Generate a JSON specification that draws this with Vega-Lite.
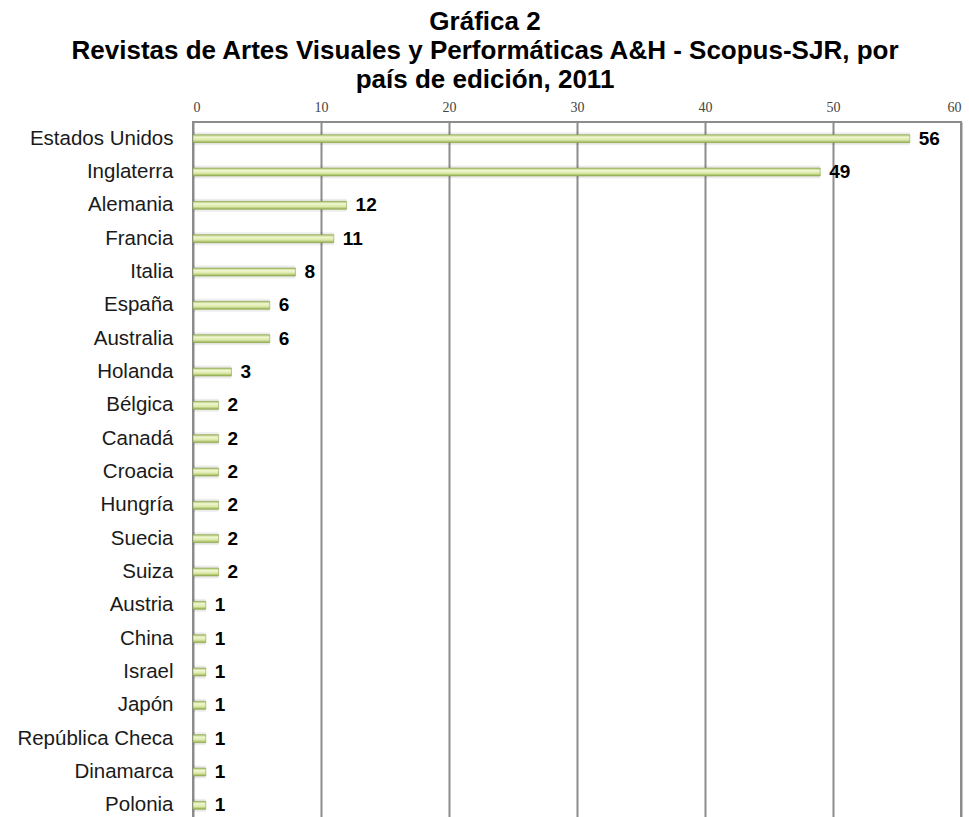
{
  "$schema": "https://vega.github.io/schema/vega-lite/v6.json",
  "autosize": {"type": "none"},
  "padding": {"left": 193, "top": 122, "right": 8, "bottom": 0},
  "width": 768,
  "height": 700,
  "title": {
    "text": ["Gráfica 2", "Revistas de Artes Visuales y Performáticas A&H - Scopus-SJR, por", "país de edición, 2011"],
    "font": "Liberation Sans",
    "fontSize": 26,
    "fontWeight": "bold",
    "color": "#000000",
    "lineHeight": 29,
    "anchor": "middle",
    "dx": -92,
    "offset": 7
  },
  "data": {
    "values": [
      {"pais": "Estados Unidos", "revistas": 56},
      {"pais": "Inglaterra ", "revistas": 49},
      {"pais": "Alemania", "revistas": 12},
      {"pais": "Francia", "revistas": 11},
      {"pais": "Italia", "revistas": 8},
      {"pais": "España", "revistas": 6},
      {"pais": "Australia", "revistas": 6},
      {"pais": "Holanda", "revistas": 3},
      {"pais": "Bélgica", "revistas": 2},
      {"pais": "Canadá", "revistas": 2},
      {"pais": "Croacia", "revistas": 2},
      {"pais": "Hungría ", "revistas": 2},
      {"pais": "Suecia", "revistas": 2},
      {"pais": "Suiza", "revistas": 2},
      {"pais": "Austria", "revistas": 1},
      {"pais": "China", "revistas": 1},
      {"pais": "Israel", "revistas": 1},
      {"pais": "Japón", "revistas": 1},
      {"pais": "República Checa", "revistas": 1},
      {"pais": "Dinamarca", "revistas": 1},
      {"pais": "Polonia", "revistas": 1}
    ]
  },
  "encoding": {
    "y": {
      "field": "pais",
      "type": "nominal",
      "sort": null,
      "title": null,
      "axis": {
        "labelFont": "Liberation Sans",
        "labelFontSize": 20.5,
        "labelColor": "#1a1a1a",
        "labelPadding": 20,
        "labelLimit": 300,
        "ticks": false,
        "domain": false,
        "grid": false
      }
    },
    "x": {
      "field": "revistas",
      "type": "quantitative",
      "scale": {"domain": [0, 60]},
      "title": null,
      "axis": {
        "orient": "top",
        "values": [0, 10, 20, 30, 40, 50, 60],
        "labelFont": "Liberation Serif",
        "labelFontSize": 14,
        "labelColor": "#444444",
        "labelPadding": 8,
        "ticks": false,
        "domain": false,
        "grid": true,
        "gridColor": "#8c8c8c",
        "gridWidth": 2
      }
    }
  },
  "layer": [
    {
      "mark": {"type": "bar", "height": 13, "color": "#000000", "opacity": 0.07}
    },
    {
      "mark": {
        "type": "bar",
        "height": 8,
        "stroke": "#8ca34f",
        "strokeWidth": 0.6,
        "color": {
          "gradient": "linear",
          "x1": 0, "y1": 0, "x2": 0, "y2": 1,
          "stops": [
            {"offset": 0, "color": "#a7bf66"},
            {"offset": 0.3, "color": "#f1f7d2"},
            {"offset": 0.65, "color": "#dbe9a8"},
            {"offset": 1, "color": "#93ae4c"}
          ]
        }
      }
    },
    {
      "mark": {
        "type": "text",
        "align": "left",
        "baseline": "middle",
        "dx": 9,
        "font": "Liberation Sans",
        "fontSize": 19,
        "fontWeight": "bold",
        "color": "#000000"
      },
      "encoding": {"text": {"field": "revistas", "type": "quantitative"}}
    }
  ],
  "config": {
    "view": {"stroke": "#8c8c8c", "strokeWidth": 2}
  }
}
